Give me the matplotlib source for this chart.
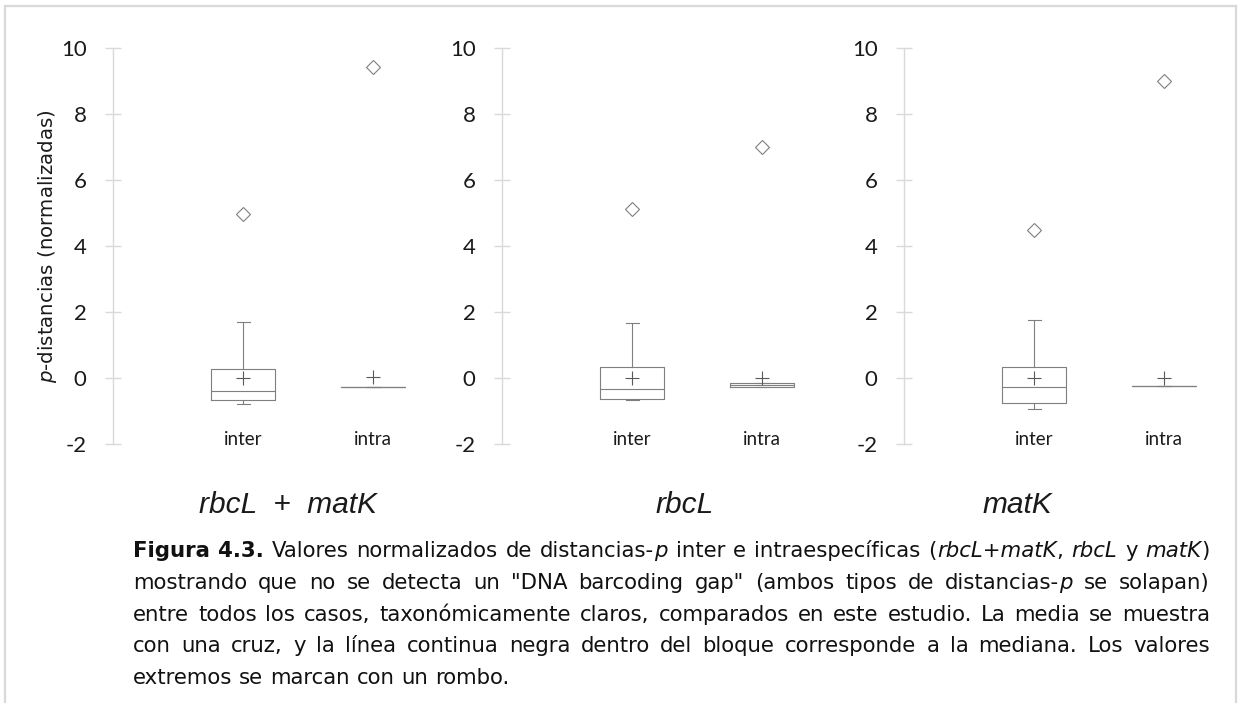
import re
import matplotlib
matplotlib.use('Agg')
import matplotlib.pyplot as plt
from matplotlib.lines import Line2D

W, H = 1238, 703

panel_titles = ['rbcL  +  matK', 'rbcL', 'matK']
categories = ['inter', 'intra']

# summary statistics of the normalised p-distances, one pair (inter, intra) per marker set
whislo = [[-0.80, -0.27], [-0.66, -0.28], [-0.93, -0.24]]
q1 = [[-0.67, -0.27], [-0.64, -0.28], [-0.75, -0.24]]
med = [[-0.41, -0.27], [-0.33, -0.22], [-0.26, -0.24]]
q3 = [[0.28, -0.27], [0.32, -0.16], [0.32, -0.24]]
whishi = [[1.68, -0.27], [1.66, -0.16], [1.74, -0.24]]
means = [[0.0, 0.02], [0.0, 0.01], [0.0, 0.0]]
extremes = [[4.96, 9.42], [5.11, 7.00], [4.47, 8.99]]

yticks = [-2, 0, 2, 4, 6, 8, 10]

caption_lines = [
    '**Figura** **4.3.** Valores normalizados de distancias-*p* inter e intraespecíficas (*rbcL+matK*, *rbcL* y *matK*)',
    'mostrando que no se detecta un "DNA barcoding gap" (ambos tipos de distancias-*p* se solapan)',
    'entre todos los casos, taxonómicamente claros, comparados en este estudio. La media se muestra',
    'con una cruz, y la línea continua negra dentro del bloque corresponde a la mediana. Los valores',
    'extremos se marcan con un rombo.',
]

fig = plt.figure(figsize=(W / 100, H / 100), dpi=100)
fig.patch.set_facecolor('white')

def px(x, y):
    return x / W, 1 - y / H

# light frame around the figure
frame = '#d9d9d9'
fig.add_artist(Line2D([5 / W, 1236 / W], [1 - 6 / H] * 2, color=frame, lw=1.6))
fig.add_artist(Line2D([5 / W] * 2, [1 - 6 / H, 0], color=frame, lw=1.6))
fig.add_artist(Line2D([1236 / W] * 2, [1 - 6 / H, 0], color=frame, lw=1.6))

axis_x = [113, 502, 904]
title_x = [288, 685, 1017]
top_px, bot_px = 47.7, 444
ax_w = 325

grey = '#7f7f7f'
for p in range(3):
    l, b = px(axis_x[p], bot_px)
    ax = fig.add_axes([l, b, ax_w / W, (bot_px - top_px) / H])
    stats = []
    for c in range(2):
        stats.append(dict(whislo=whislo[p][c], q1=q1[p][c], med=med[p][c], q3=q3[p][c],
                          whishi=whishi[p][c], mean=means[p][c], fliers=[extremes[p][c]]))
    ax.bxp(stats, positions=[1, 2], widths=0.49, capwidths=0.1, showmeans=True,
           boxprops=dict(color=grey, lw=0.8),
           whiskerprops=dict(color=grey, lw=0.8),
           capprops=dict(color=grey, lw=0.8),
           medianprops=dict(color=grey, lw=0.8),
           meanprops=dict(marker='+', markeredgecolor='#595959', markersize=10, markeredgewidth=0.8),
           flierprops=dict(marker='D', markerfacecolor='white', markeredgecolor=grey,
                           markersize=7, markeredgewidth=0.8))
    ax.set_xlim(0, 2.5)
    ax.set_ylim(-2, 10)
    for s in ['top', 'right', 'bottom']:
        ax.spines[s].set_visible(False)
    ax.spines['left'].set_color(frame)
    ax.spines['left'].set_linewidth(1)
    ax.set_xticks([])
    ax.set_yticks(yticks)
    ax.set_yticklabels([str(t) for t in yticks], fontfamily='Lato', fontsize=16, color='#1a1a1a')
    ax.tick_params(axis='y', direction='inout', length=12, width=1, color=frame, pad=13)
    ax.patch.set_alpha(0)
    for c, name in enumerate(categories):
        ax.text(c + 1, -1.85, name, ha='center', va='center', fontfamily='Lato',
                fontsize=13.5, color='#1a1a1a')
    tx, ty = px(title_x[p], 513)
    fig.text(tx, ty, panel_titles[p], ha='center', va='baseline', fontfamily='Liberation Sans',
             fontstyle='italic', fontsize=21.5, color='#1a1a1a')

lx, ly = px(48, 246)
fig.text(lx, ly, r'$\mathit{p}$-distancias (normalizadas)', rotation=90, ha='center', va='center',
         fontfamily='DejaVu Sans', fontsize=14.2, color='#1a1a1a')

# justified caption, word by word
renderer = fig.canvas.get_renderer()
styles = {'n': {}, 'i': {'fontstyle': 'italic'}, 'b': {'fontweight': 'bold'}}

def split_word(word):
    segs = []
    for part in re.split(r'(\*\*.+?\*\*|\*.+?\*)', word):
        if not part:
            continue
        if part.startswith('**'):
            segs.append((part[2:-2], 'b'))
        elif part.startswith('*'):
            segs.append((part[1:-1], 'i'))
        else:
            segs.append((part, 'n'))
    return segs

def text_width(s, kind, size):
    t = fig.text(0, 0, s, fontsize=size, fontfamily='DejaVu Sans', **styles[kind])
    w = t.get_window_extent(renderer).width
    t.remove()
    return w

left, right = 133, 1210
avail = right - left
base = 14
first = [split_word(w) for w in caption_lines[0].split(' ')]
nat = sum(text_width(s, k, base) for wd in first for s, k in wd)
space = text_width('x x', 'n', base) - text_width('xx', 'n', base)
nat += space * (len(first) - 1)
cap_size = base * avail / nat * 0.995

baselines = [557, 589, 621, 652, 684]
for li, line in enumerate(caption_lines):
    words = [split_word(w) for w in line.split(' ')]
    widths = [[text_width(s, k, cap_size) for s, k in wd] for wd in words]
    total = sum(sum(w) for w in widths)
    if li < len(caption_lines) - 1:
        gap = (avail - total) / (len(words) - 1)
    else:
        gap = space * cap_size / base
    x = left
    for wd, ws in zip(words, widths):
        for (s, k), w in zip(wd, ws):
            fx, fy = px(x, baselines[li])
            fig.text(fx, fy, s, fontsize=cap_size, fontfamily='DejaVu Sans', va='baseline',
                     color='#111111', **styles[k])
            x += w
        x += gap

fig.savefig('out.png', dpi=100, facecolor='white')
